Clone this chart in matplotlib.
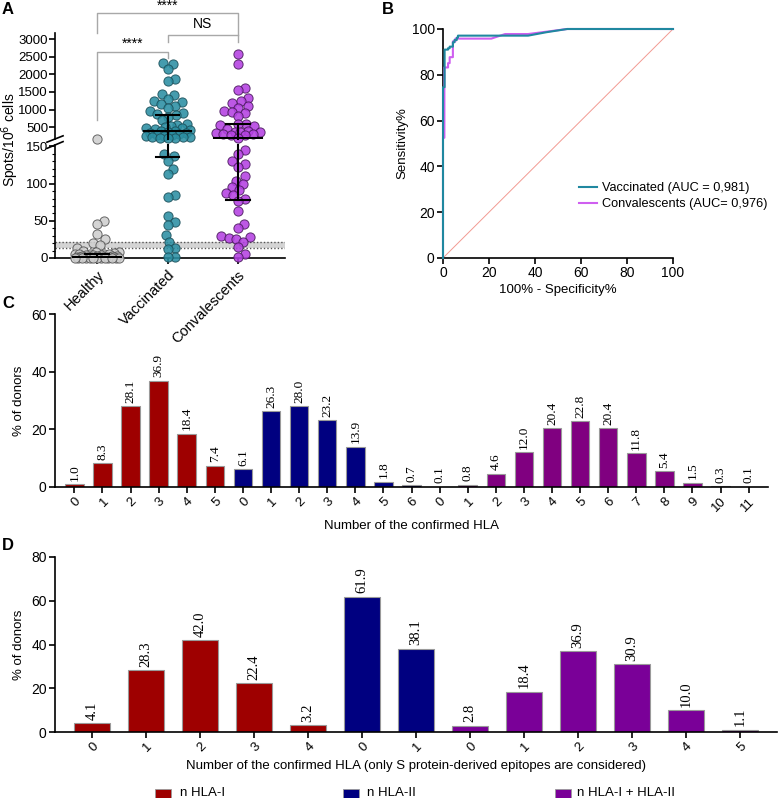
import numpy as np
import matplotlib.pyplot as plt
from matplotlib.patches import Rectangle

plt.rcParams["font.family"] = ["Liberation Sans", "DejaVu Sans"]
SERIF = ["Liberation Serif", "DejaVu Serif"]

# ------------------------------------------------------------
# data
# ------------------------------------------------------------
groups = ["Healthy", "Vaccinated", "Convalescents"]

healthy = [170, 50, 46, 32, 25, 20, 17, 13, 10, 8, 8, 7, 6, 6, 5, 5, 5, 4, 4, 4,
           3, 3, 3, 3, 2, 2, 2, 2, 2, 1, 1, 1, 1, 1, 1, 0, 0, 0, 0, 0, 0, 0, 0,
           0, 0, 0, 0, 0]
vaccinated = [2330, 2290, 2150, 1870, 1820, 1450, 1420, 1300, 1250, 1200, 1150,
              1100, 1050, 960, 900, 870, 850, 800, 700, 600, 550, 520, 500, 480,
              460, 440, 420, 400, 380, 360, 340, 320, 300, 280, 260, 250, 240,
              230, 220, 210, 200, 200, 190,
              140, 137, 131, 120, 113, 85, 82, 56, 48, 44, 31, 22, 14, 12, 2, 1]
convalescents = [2580, 2300, 1620, 1560, 1330, 1250, 1190, 1100, 1050, 960, 940,
                 900, 820, 600, 580, 560, 520, 450, 400, 370, 360, 350, 330, 300,
                 290, 280, 260, 200,
                 145, 140, 130, 127, 123, 110, 104, 100, 96, 92, 87, 85, 80, 77,
                 63, 46, 40, 30, 28, 27, 25, 22, 15, 5, 2]
group_median = [2, 395, 185]
group_q1 = [0, 136, 78]
group_q3 = [5, 850, 590]
cutoff_band = [13, 22]

vac_fpr = [0, 0, 0.7, 0.7, 2.2, 2.2, 2.9, 2.9, 4.3, 4.3, 5.0, 5.0, 6.0, 6.0, 6.5, 6.5, 37, 45, 54, 100]
vac_tpr = [0, 74.6, 74.6, 91.0, 91.0, 91.6, 91.6, 92.3, 92.3, 94.2, 94.2, 95.2, 95.2, 96.2, 96.2, 97.1, 97.1, 98.6, 100, 100]
conv_fpr = [0, 0, 0.6, 0.6, 2.2, 2.2, 2.9, 2.9, 4.3, 4.3, 5.4, 5.4, 21, 27, 37, 54, 100]
conv_tpr = [0, 52.5, 52.5, 83.2, 83.2, 85.1, 85.1, 87.7, 87.7, 94.6, 94.6, 95.8, 95.8, 97.8, 97.8, 100, 100]

c_hla1 = [1.0, 8.3, 28.1, 36.9, 18.4, 7.4]
c_hla2 = [6.1, 26.3, 28.0, 23.2, 13.9, 1.8, 0.7]
c_hla12 = [0.1, 0.8, 4.6, 12.0, 20.4, 22.8, 20.4, 11.8, 5.4, 1.5, 0.3, 0.1]

d_hla1 = [4.1, 28.3, 42.0, 22.4, 3.2]
d_hla2 = [61.9, 38.1]
d_hla12 = [2.8, 18.4, 36.9, 30.9, 10.0, 1.1]

legend_labels = ["n HLA-I", "n HLA-II", "n HLA-I + HLA-II"]

# ------------------------------------------------------------
# figure helpers
# ------------------------------------------------------------
W, H = 783, 798
fig = plt.figure(figsize=(W / 100, H / 100), dpi=100)


def px_axes(l, t, r, b):
    return fig.add_axes([l / W, 1 - b / H, (r - l) / W, (b - t) / H])


def style(ax, lw=1.2, size=10):
    for s in ["top", "right"]:
        ax.spines[s].set_visible(False)
    for s in ["left", "bottom"]:
        ax.spines[s].set_linewidth(lw)
    ax.tick_params(width=lw, length=4, labelsize=size, pad=2)


# ------------------------------------------------------------
# A: scatter with broken axis
# ------------------------------------------------------------
LOW_MAX, TOP_MIN, TOP_MAX = 152, 160, 3180
axA_top = px_axes(55, 33, 285, 139)
axA_bot = px_axes(55, 145, 285, 258)
for ax in (axA_top, axA_bot):
    style(ax, size=9.5)
    ax.set_xlim(-0.6, 2.67)
    ax.tick_params(axis="y", pad=1)
axA_top.set_ylim(TOP_MIN, TOP_MAX)
axA_bot.set_ylim(0, LOW_MAX)
axA_top.spines["bottom"].set_visible(False)
axA_top.tick_params(axis="x", bottom=False, labelbottom=False)
axA_top.set_yticks(range(500, 3001, 500))
axA_bot.set_yticks([0, 50, 100, 150])
axA_bot.set_yticks(range(0, 151, 10), minor=True)
axA_bot.tick_params(axis="y", which="minor", length=2, width=0.8)
axA_bot.set_xticks(range(3))
axA_bot.set_xticklabels(groups, rotation=45, ha="right", va="top",
                        rotation_mode="anchor", fontsize=10.5)
axA_bot.tick_params(axis="x", length=4, pad=3)

# break marks
for ax, yy in ((axA_top, 0.0), (axA_bot, 1.0)):
    ax.plot([-0.035, 0.035], [yy - 0.03, yy + 0.03], transform=ax.transAxes,
            color="black", lw=1.2, clip_on=False)

# cut-off band
axA_bot.axhspan(cutoff_band[0], cutoff_band[1], color="#d4d4d4", zorder=0, lw=0)
for v in cutoff_band:
    axA_bot.axhline(v, color="#555555", lw=1.0, ls=(0, (1, 1.5)), zorder=0.5)

face = ["#cfcfcf", "#2b8fa3", "#b441e2"]
edge = ["#555555", "#1b4f5a", "#4a1a5e"]
D = 7.6      # swarm spacing in pixels
MAXW = 22.0  # max half width of a swarm in pixels


def swarm(ypx, d, maxw):
    order = np.argsort(ypx)
    placed = []
    xs = np.zeros(len(ypx))
    grid = np.linspace(-maxw, maxw, 45)
    for i in order:
        y = ypx[i]
        near = [(px, py) for px, py in placed if abs(py - y) < d]
        cands = [0.0]
        for px, py in near:
            dx = np.sqrt(d * d - (py - y) ** 2)
            cands += [px + dx, px - dx]
        cands = sorted([c for c in cands if abs(c) <= maxw], key=abs)
        chosen = None
        for c in cands:
            if all((c - px) ** 2 + (y - py) ** 2 >= d * d - 1e-6 for px, py in near):
                chosen = c
                break
        if chosen is None:
            score = [min((g - px) ** 2 + (y - py) ** 2 for px, py in near) - 1e-3 * abs(g)
                     for g in grid]
            chosen = grid[int(np.argmax(score))]
        xs[i] = chosen
        placed.append((chosen, y))
    return xs


px_per_unit = axA_bot.transData.transform((1, 0))[0] - axA_bot.transData.transform((0, 0))[0]

for gi, vals in enumerate([healthy, vaccinated, convalescents]):
    vals = np.asarray(vals, dtype=float)
    ypx = np.array([
        (axA_top if v > LOW_MAX else axA_bot).transData.transform((gi, v))[1]
        for v in vals
    ])
    xoff = swarm(ypx, D, MAXW) / px_per_unit
    for ax, mask in ((axA_top, vals > LOW_MAX), (axA_bot, vals <= LOW_MAX)):
        ax.scatter(gi + xoff[mask], vals[mask], s=44, c=face[gi], edgecolors=edge[gi],
                   linewidths=0.7, alpha=0.88, zorder=3, clip_on=False)


def ax_for(v):
    return axA_top if v > LOW_MAX else axA_bot


for gi in range(3):
    med, q1, q3 = group_median[gi], group_q1[gi], group_q3[gi]
    ax_for(med).plot([gi - 0.34, gi + 0.34], [med, med], color="black", lw=1.5, zorder=4)
    for q in (q1, q3):
        ax_for(q).plot([gi - 0.17, gi + 0.17], [q, q], color="black", lw=1.5, zorder=4)
    if ax_for(q1) is ax_for(q3):
        ax_for(q1).plot([gi, gi], [q1, q3], color="black", lw=1.5, zorder=4)
    else:
        axA_bot.plot([gi, gi], [q1, LOW_MAX], color="black", lw=1.5, zorder=4, clip_on=False)
        axA_top.plot([gi, gi], [TOP_MIN, q3], color="black", lw=1.5, zorder=4, clip_on=False)

# significance brackets
bc = "#a8a8a8"
axA_top.plot([0, 0, 2, 2], [3180, 3750, 3750, 2932], color=bc, lw=1, clip_on=False)
axA_top.plot([1, 1, 2], [2932, 3123, 3123], color=bc, lw=1, clip_on=False)
axA_top.plot([0, 0, 1, 1], [701, 2647, 2647, 2459], color=bc, lw=1, clip_on=False)
axA_top.text(1, 3960, "****", ha="center", va="center", fontsize=10, clip_on=False)
axA_top.text(1.5, 3436, "NS", ha="center", va="center", fontsize=10, clip_on=False)
axA_top.text(0.5, 2670, "****", ha="center", va="bottom", fontsize=10, clip_on=False)

fig.text(10 / W, 1 - 140 / H, "Spots/10$^6$ cells", rotation=90, ha="center",
         va="center", fontsize=10)

# ------------------------------------------------------------
# B: ROC
# ------------------------------------------------------------
axB = px_axes(443, 29, 673, 258)
style(axB)
axB.set_xlim(0, 100)
axB.set_ylim(0, 100)
axB.set_xticks(range(0, 101, 20))
axB.set_yticks(range(0, 101, 20))
axB.plot([0, 100], [0, 100], color="#f29a92", lw=0.7, zorder=1)
axB.plot(conv_fpr, conv_tpr, color="#cf5ff0", lw=1.5, label="Convalescents (AUC= 0,976)",
         zorder=3, clip_on=False)
axB.plot(vac_fpr, vac_tpr, color="#2088a0", lw=1.5, label="Vaccinated (AUC = 0,981)",
         zorder=4, clip_on=False)
h, l = axB.get_legend_handles_labels()
axB.legend(h[::-1], l[::-1], loc="center left", bbox_to_anchor=(0.59, 0.27),
           frameon=False, fontsize=9.2, handlelength=1.4, handletextpad=0.4,
           labelspacing=0.3, borderaxespad=0, borderpad=0)
axB.set_xlabel("100% - Specificity%", fontsize=9.5, labelpad=3)
axB.set_ylabel("Sensitivity%", fontsize=9.5, labelpad=2)

# ------------------------------------------------------------
# C and D: bar charts
# ------------------------------------------------------------
def bar_panel(ax, series, colors, ymax, step, xlabel, vsize):
    style(ax)
    ax.patch.set_alpha(0)
    heights, cols, ticks = [], [], []
    for vals, col in zip(series, colors):
        heights += list(vals)
        cols += [col] * len(vals)
        ticks += [str(i) for i in range(len(vals))]
    x = np.arange(len(heights))
    ax.bar(x, heights, width=0.66, color=cols, edgecolor="#9a9a9a", linewidth=0.8, zorder=2)
    for xi, hi in zip(x, heights):
        ax.annotate(f"{hi:.1f}", (xi, hi), xytext=(0, 2.5), textcoords="offset points",
                    rotation=90, ha="center", va="bottom", fontsize=vsize, family=SERIF)
    ax.set_xlim(-0.69, len(heights) - 0.31)
    ax.set_ylim(0, ymax)
    ax.set_yticks(range(0, ymax + 1, step))
    ax.set_xticks(x)
    ax.set_xticklabels(ticks, rotation=45, ha="right", va="top", rotation_mode="anchor",
                       fontsize=9.5)
    ax.set_ylabel("% of donors", fontsize=9.5, labelpad=4)
    ax.set_xlabel(xlabel, fontsize=9.5, labelpad=4)


axC = px_axes(55, 314, 768, 487)
bar_panel(axC, [c_hla1, c_hla2, c_hla12], ["#9e0000", "#000080", "#800080"], 60, 20,
          "Number of the confirmed HLA", 9.5)
axD = px_axes(55, 557, 777, 732)
bar_panel(axD, [d_hla1, d_hla2, d_hla12], ["#9e0000", "#000080", "#7a0098"], 80, 20,
          "Number of the confirmed HLA (only S protein-derived epitopes are considered)", 10.5)

# legend under D
for (sx, tx), lab, col in zip([(155, 180), (343, 367), (555, 577)], legend_labels,
                              ["#9e0000", "#000080", "#7a0098"]):
    fig.patches.append(Rectangle((sx / W, 1 - 798 / H), 16 / W, 9 / H,
                                 transform=fig.transFigure, facecolor=col,
                                 edgecolor="#9a9a9a", lw=0.6))
    fig.text(tx / W, 1 - 793 / H, lab, ha="left", va="center", fontsize=9.5)

# panel letters
for lx, ly, letter in [(8, 9, "A"), (388, 9, "B"), (8, 303, "C"), (8, 545, "D")]:
    fig.text(lx / W, 1 - ly / H, letter, ha="center", va="center", fontsize=12,
             fontweight="bold")

fig.savefig("out.png", dpi=100)
